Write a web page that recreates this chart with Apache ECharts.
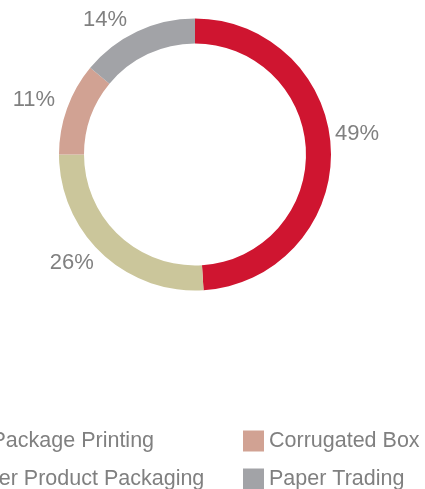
<!DOCTYPE html>
<html>
<head>
<meta charset="utf-8">
<script src="https://cdn.jsdelivr.net/npm/echarts@6/dist/echarts.min.js"></script>
<style>
  html, body { margin: 0; padding: 0; background: #ffffff; }
  #chart { width: 425px; height: 489px; }
</style>
</head>
<body>
<div id="chart"></div>
<script>
// Revenue share by business segment (%)
const segments = ['Package Printing', 'Paper Product Packaging', 'Corrugated Box', 'Paper Trading'];
const shares = [49, 26, 11, 14];
const colors = ['#CF1530', '#CBC69B', '#D1A293', '#A2A3A7'];

const textColor = '#808080';
const fontFamily = '"Liberation Sans", Arial, Helvetica, sans-serif';

// small offsets so each percentage sits where it reads best around the ring
const labelShift = [[-1, -16], [-3, 9], [-7, -8], [-5, -12]];

// legend laid out as a 2x2 grid, one legend block per entry
const legendSlots = [[-34.5, 430], [-65.5, 468], [243, 430], [243, 468]];

const chart = echarts.init(document.getElementById('chart'), null, { renderer: 'canvas' });
chart.setOption({
  animation: false,
  color: colors,
  legend: segments.map(function (name, i) {
    return {
      data: [name],
      left: legendSlots[i][0],
      top: legendSlots[i][1],
      orient: 'horizontal',
      icon: 'rect',
      itemWidth: 21,
      itemHeight: 21,
      selectedMode: false,
      padding: 0,
      textStyle: { color: textColor, fontSize: 21.5, fontFamily: fontFamily }
    };
  }),
  series: [{
    type: 'pie',
    center: [195, 154.5],
    radius: [111, 136],
    startAngle: 90,
    clockwise: true,
    avoidLabelOverlap: false,
    silent: true,
    label: {
      show: true,
      position: 'outside',
      formatter: '{c}%',
      color: textColor,
      fontSize: 22,
      fontFamily: fontFamily,
      distanceToLabelLine: 5
    },
    labelLine: { show: false, length: 0, length2: 0 },
    labelLayout: function (p) {
      const s = labelShift[p.dataIndex];
      return { dx: s[0], dy: s[1] };
    },
    itemStyle: { borderWidth: 0 },
    data: segments.map(function (name, i) {
      return { name: name, value: shares[i] };
    })
  }]
});
</script>
</body>
</html>
